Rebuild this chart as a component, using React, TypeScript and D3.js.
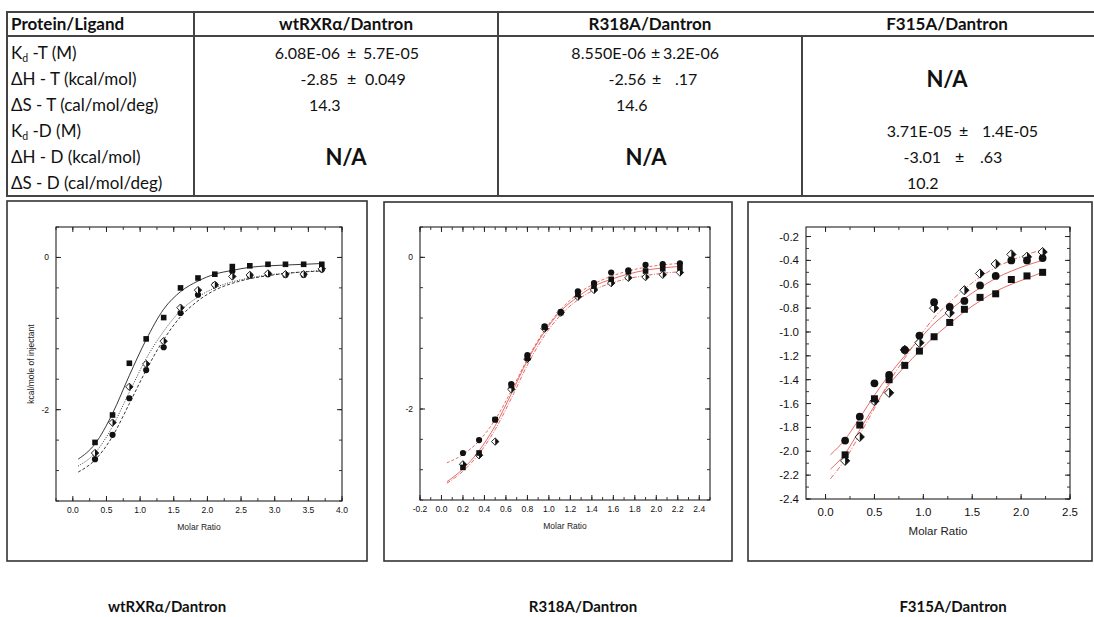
import React from "react";
import * as d3 from "d3";

// ---------------- Table data ----------------
const TABLE_HEADERS = ["Protein/Ligand", "wtRXRα/Dantron", "R318A/Dantron", "F315A/Dantron"];
const ROW_LABELS = [
  { main: "K", sub: "d", rest: " -T (M)" },
  { main: "ΔH - T (kcal/mol)", sub: "", rest: "" },
  { main: "ΔS - T (cal/mol/deg)", sub: "", rest: "" },
  { main: "K", sub: "d", rest: " -D (M)" },
  { main: "ΔH - D (kcal/mol)", sub: "", rest: "" },
  { main: "ΔS - D (cal/mol/deg)", sub: "", rest: "" },
];
// [value, error] per row
const WT_VALUES = [["6.08E-06", "5.7E-05"], ["-2.85", "0.049"], ["14.3"]];
const R318_VALUES = [["8.550E-06", "3.2E-06"], ["-2.56", ".17"], ["14.6"]];
const F315_VALUES = [["3.71E-05", "1.4E-05"], ["-3.01", ".63"], ["10.2"]];
const PM = "±";
const NA_TEXT = "N/A";
const CAPTIONS = ["wtRXRα/Dantron", "R318A/Dantron", "F315A/Dantron"];

// ---------------- Plot 1 (wtRXRα) ----------------
const P1_X = [0.33, 0.59, 0.84, 1.09, 1.35, 1.6, 1.86, 2.11, 2.37, 2.63, 2.9, 3.16, 3.43, 3.7];
const P1_SQUARES = [-2.43, -2.07, -1.39, -1.07, -0.79, -0.4, -0.27, -0.22, -0.12, -0.11, -0.09, -0.09, -0.09, -0.09];
const P1_CIRCLES = [-2.65, -2.33, -1.85, -1.48, -1.18, -0.73, -0.49, -0.36, -0.18, -0.24, -0.22, -0.23, -0.23, -0.16];
const P1_DIAMONDS = [-2.57, -2.17, -1.7, -1.4, -1.1, -0.66, -0.43, -0.36, -0.25, -0.23, -0.21, -0.22, -0.22, -0.15];
const P1_FIT_X = [0.08, 0.33, 0.59, 0.84, 1.09, 1.35, 1.6, 1.86, 2.11, 2.37, 2.63, 2.9, 3.16, 3.43, 3.7];
const P1_FIT_SQ = [-2.65, -2.45, -2.05, -1.55, -1.08, -0.68, -0.45, -0.31, -0.22, -0.17, -0.13, -0.11, -0.1, -0.09, -0.08];
const P1_FIT_CI = [-2.82, -2.66, -2.35, -1.92, -1.48, -1.08, -0.78, -0.57, -0.43, -0.34, -0.28, -0.24, -0.21, -0.19, -0.18];
const P1_FIT_DI = [-2.74, -2.57, -2.22, -1.77, -1.33, -0.97, -0.7, -0.52, -0.4, -0.32, -0.27, -0.23, -0.21, -0.19, -0.17];
const P1_XTICKS = [0, 0.5, 1, 1.5, 2, 2.5, 3, 3.5, 4];
const P1_YTICKS = [0, -2];

// ---------------- Plot 2 (R318A) ----------------
const P2_X = [0.2, 0.35, 0.5, 0.65, 0.8, 0.96, 1.11, 1.27, 1.42, 1.58, 1.74, 1.9, 2.06, 2.22];
const P2_CIRCLES = [-2.58, -2.41, -2.14, -1.67, -1.29, -0.91, -0.72, -0.45, -0.34, -0.2, -0.17, -0.1, -0.09, -0.08];
const P2_SQUARES = [-2.77, -2.58, -2.14, -1.69, -1.33, -0.92, -0.73, -0.49, -0.38, -0.29, -0.19, -0.18, -0.15, -0.14];
const P2_DIAMONDS = [-2.73, -2.61, -2.43, -1.74, -1.34, -0.94, -0.73, -0.52, -0.43, -0.34, -0.27, -0.26, -0.23, -0.2];
const P2_FIT_X = [0.05, 0.2, 0.35, 0.5, 0.65, 0.8, 0.96, 1.11, 1.27, 1.42, 1.58, 1.74, 1.9, 2.06, 2.22];
const P2_FIT_SQ = [-2.96, -2.79, -2.55, -2.22, -1.8, -1.36, -0.98, -0.71, -0.52, -0.38, -0.29, -0.22, -0.17, -0.14, -0.12];
const P2_FIT_CI = [-2.71, -2.6, -2.42, -2.14, -1.76, -1.34, -0.96, -0.69, -0.48, -0.35, -0.25, -0.18, -0.13, -0.1, -0.08];
const P2_FIT_DI = [-2.98, -2.82, -2.59, -2.27, -1.86, -1.42, -1.03, -0.76, -0.56, -0.43, -0.34, -0.28, -0.24, -0.21, -0.19];
const P2_XTICKS = [-0.2, 0, 0.2, 0.4, 0.6, 0.8, 1.0, 1.2, 1.4, 1.6, 1.8, 2.0, 2.2, 2.4];
const P2_YTICKS = [0, -2];

// ---------------- Plot 3 (F315A) ----------------
const P3_X = [0.2, 0.35, 0.5, 0.65, 0.81, 0.96, 1.11, 1.27, 1.42, 1.58, 1.74, 1.9, 2.06, 2.22];
const P3_CIRCLES = [-1.91, -1.71, -1.43, -1.36, -1.15, -1.03, -0.75, -0.79, -0.74, -0.61, -0.53, -0.4, -0.4, -0.38];
const P3_SQUARES = [-2.03, -1.78, -1.56, -1.4, -1.28, -1.16, -1.04, -0.92, -0.81, -0.71, -0.68, -0.56, -0.53, -0.5];
const P3_DIAMONDS = [-2.08, -1.88, -1.58, -1.51, -1.15, -1.09, -0.8, -0.84, -0.65, -0.51, -0.43, -0.35, -0.37, -0.33];
const P3_FIT_X = [0.05, 0.2, 0.35, 0.5, 0.65, 0.81, 0.96, 1.11, 1.27, 1.42, 1.58, 1.74, 1.9, 2.06, 2.22];
const P3_FIT_CI = [-2.03, -1.9, -1.72, -1.53, -1.36, -1.2, -1.06, -0.93, -0.82, -0.72, -0.63, -0.55, -0.49, -0.44, -0.4];
const P3_FIT_SQ = [-2.15, -2.02, -1.82, -1.62, -1.44, -1.29, -1.16, -1.04, -0.93, -0.83, -0.74, -0.66, -0.6, -0.55, -0.5];
const P3_FIT_DI = [-2.23, -2.07, -1.86, -1.64, -1.42, -1.22, -1.04, -0.88, -0.75, -0.64, -0.54, -0.46, -0.4, -0.35, -0.31];
const P3_XTICKS = [0, 0.5, 1.0, 1.5, 2.0, 2.5];
const P3_YTICKS = [-0.2, -0.4, -0.6, -0.8, -1.0, -1.2, -1.4, -1.6, -1.8, -2.0, -2.2, -2.4];

const RED = "#e25a55";
const INK = "#111";

type Series = { kind: "square" | "circle" | "diamond"; ys: number[] };
type Fit = { ys: number[]; dash: string };
type PlotCfg = {
  box: [number, number, number, number];
  left: number; right: number; top: number; bottom: number;
  xDomain: [number, number]; yDomain: [number, number];
  xTicks: number[]; xMinor: number; xFmt: (v: number) => string;
  yTicks: number[]; yMinor: number; yFmt: (v: number) => string;
  xs: number[]; series: Series[];
  fitX: number[]; fits: Fit[]; fitColor: string;
  fontSize: number; marker: number; yTitle?: string;
  fontFamily: string; labelGap: number; titleGap: number;
};

const hy = (s: string) => s.replace("\u2212", "-");
const f1 = (v: number) => hy(d3.format(".1f")(v));
const f0 = (v: number) => hy(d3.format("d")(v));

const NARROW = "'Liberation Sans Narrow', 'Liberation Sans', Arial, sans-serif";

const PLOTS: PlotCfg[] = [
  {
    box: [7, 201, 367, 561],
    left: 56, right: 342, top: 227, bottom: 501,
    xDomain: [-0.25, 4.0], yDomain: [-3.2, 0.4],
    xTicks: P1_XTICKS, xMinor: 0.25, xFmt: f1,
    yTicks: P1_YTICKS, yMinor: 0.4, yFmt: f0,
    xs: P1_X,
    series: [
      { kind: "circle", ys: P1_CIRCLES },
      { kind: "diamond", ys: P1_DIAMONDS },
      { kind: "square", ys: P1_SQUARES },
    ],
    fitX: P1_FIT_X,
    fits: [
      { ys: P1_FIT_SQ, dash: "" },
      { ys: P1_FIT_CI, dash: "3,2" },
      { ys: P1_FIT_DI, dash: "1,1.5" },
    ],
    fitColor: "#222",
    fontSize: 8.5, marker: 1, yTitle: "kcal/mole of injectant",
    fontFamily: NARROW, labelGap: 12, titleGap: 29,
  },
  {
    box: [384, 202, 732, 561],
    left: 420, right: 710, top: 227, bottom: 500,
    xDomain: [-0.2, 2.5], yDomain: [-3.2, 0.4],
    xTicks: P2_XTICKS, xMinor: 0.1, xFmt: f1,
    yTicks: P2_YTICKS, yMinor: 0.4, yFmt: f0,
    xs: P2_X,
    series: [
      { kind: "diamond", ys: P2_DIAMONDS },
      { kind: "square", ys: P2_SQUARES },
      { kind: "circle", ys: P2_CIRCLES },
    ],
    fitX: P2_FIT_X,
    fits: [
      { ys: P2_FIT_SQ, dash: "" },
      { ys: P2_FIT_CI, dash: "3,2" },
      { ys: P2_FIT_DI, dash: "4,1.5,1,1.5" },
    ],
    fitColor: RED,
    fontSize: 8.5, marker: 1,
    fontFamily: NARROW, labelGap: 12, titleGap: 29,
  },
  {
    box: [748, 202, 1092, 561],
    left: 806, right: 1070, top: 227, bottom: 499,
    xDomain: [-0.2, 2.5], yDomain: [-2.4, -0.12],
    xTicks: P3_XTICKS, xMinor: 0.25, xFmt: f1,
    yTicks: P3_YTICKS, yMinor: 0.1, yFmt: f1,
    xs: P3_X,
    series: [
      { kind: "diamond", ys: P3_DIAMONDS },
      { kind: "square", ys: P3_SQUARES },
      { kind: "circle", ys: P3_CIRCLES },
    ],
    fitX: P3_FIT_X,
    fits: [
      { ys: P3_FIT_CI, dash: "" },
      { ys: P3_FIT_SQ, dash: "" },
      { ys: P3_FIT_DI, dash: "5,2,1,2" },
    ],
    fitColor: RED,
    fontSize: 11.5, marker: 1.25,
    fontFamily: "'Liberation Sans', Arial, sans-serif", labelGap: 17, titleGap: 36,
  },
];

function Marker({ kind, cx, cy, s }: { kind: string; cx: number; cy: number; s: number }) {
  if (kind === "square") {
    const h = 2.8 * s;
    return <rect x={cx - h} y={cy - h} width={2 * h} height={2 * h} fill={INK} />;
  }
  if (kind === "circle") {
    return <circle cx={cx} cy={cy} r={3.1 * s} fill={INK} />;
  }
  const d = 3.7 * s;
  return (
    <g>
      <path d={`M${cx},${cy - d}L${cx + d},${cy}L${cx},${cy + d}L${cx - d},${cy}Z`} fill="#fff" stroke={INK} strokeWidth={0.9} />
      <path d={`M${cx},${cy - d}L${cx + d},${cy}L${cx},${cy + d}Z`} fill={INK} />
    </g>
  );
}

function Plot({ cfg }: { cfg: PlotCfg }) {
  const x = d3.scaleLinear().domain(cfg.xDomain).range([cfg.left, cfg.right]);
  const y = d3.scaleLinear().domain(cfg.yDomain).range([cfg.bottom, cfg.top]);
  const line = d3
    .line<[number, number]>()
    .x((d) => x(d[0]))
    .y((d) => y(d[1]))
    .curve(d3.curveMonotoneX);

  const eps = 1e-6;
  const xMinors = d3
    .range(Math.ceil(cfg.xDomain[0] / cfg.xMinor - eps) * cfg.xMinor, cfg.xDomain[1] + eps, cfg.xMinor)
    .filter((v) => v >= cfg.xDomain[0] - eps && v <= cfg.xDomain[1] + eps);
  const yMinors = d3
    .range(Math.ceil(cfg.yDomain[0] / cfg.yMinor - eps) * cfg.yMinor, cfg.yDomain[1] + eps, cfg.yMinor)
    .filter((v) => v >= cfg.yDomain[0] - eps && v <= cfg.yDomain[1] + eps);

  const major = 5;
  const minor = 3;
  const [bx0, by0, bx1, by1] = cfg.box;
  const fs = cfg.fontSize;
  const midX = (cfg.left + cfg.right) / 2;

  return (
    <g>
      <rect x={bx0} y={by0} width={bx1 - bx0} height={by1 - by0} fill="#fff" stroke="#333" strokeWidth={1.6} />
      {cfg.fits.map((f, i) => (
        <path
          key={i}
          d={line(cfg.fitX.map((v, j) => [v, f.ys[j]] as [number, number])) || ""}
          fill="none"
          stroke={cfg.fitColor}
          strokeWidth={0.9}
          strokeDasharray={f.dash || undefined}
        />
      ))}
      {cfg.series.map((s, i) => (
        <g key={i}>
          {cfg.xs.map((v, j) => (
            <Marker key={j} kind={s.kind} cx={x(v)} cy={y(s.ys[j])} s={cfg.marker} />
          ))}
        </g>
      ))}
      <rect x={cfg.left} y={cfg.top} width={cfg.right - cfg.left} height={cfg.bottom - cfg.top} fill="none" stroke="#222" strokeWidth={1.1} />
      {xMinors.map((v, i) => (
        <g key={"xm" + i} stroke="#222" strokeWidth={0.9}>
          <line x1={x(v)} x2={x(v)} y1={cfg.bottom} y2={cfg.bottom - minor} />
          <line x1={x(v)} x2={x(v)} y1={cfg.top} y2={cfg.top + minor} />
        </g>
      ))}
      {cfg.xTicks.map((v, i) => (
        <g key={"xM" + i}>
          <line x1={x(v)} x2={x(v)} y1={cfg.bottom} y2={cfg.bottom - major} stroke="#222" strokeWidth={1} />
          <line x1={x(v)} x2={x(v)} y1={cfg.top} y2={cfg.top + major} stroke="#222" strokeWidth={1} />
          <text x={x(v)} y={cfg.bottom + cfg.labelGap} fontSize={fs} textAnchor="middle" fill="#111" fontFamily={cfg.fontFamily}>
            {cfg.xFmt(v)}
          </text>
        </g>
      ))}
      {yMinors.map((v, i) => (
        <g key={"ym" + i} stroke="#222" strokeWidth={0.9}>
          <line x1={cfg.left} x2={cfg.left + minor} y1={y(v)} y2={y(v)} />
          <line x1={cfg.right} x2={cfg.right - minor} y1={y(v)} y2={y(v)} />
        </g>
      ))}
      {cfg.yTicks.map((v, i) => (
        <g key={"yM" + i}>
          <line x1={cfg.left} x2={cfg.left + major} y1={y(v)} y2={y(v)} stroke="#222" strokeWidth={1} />
          <line x1={cfg.right} x2={cfg.right - major} y1={y(v)} y2={y(v)} stroke="#222" strokeWidth={1} />
          <text x={cfg.left - 7} y={y(v) + fs * 0.35} fontSize={fs} textAnchor="end" fill="#111" fontFamily={cfg.fontFamily}>
            {cfg.yFmt(v)}
          </text>
        </g>
      ))}
      <text x={midX} y={cfg.bottom + cfg.titleGap} fontSize={fs} textAnchor="middle" fill="#222" fontFamily={cfg.fontFamily}>
        Molar Ratio
      </text>
      {cfg.yTitle && (
        <text
          transform={`translate(${cfg.left - 22},${(cfg.top + cfg.bottom) / 2}) rotate(-90)`}
          fontSize={fs}
          textAnchor="middle"
          fill="#222"
          fontFamily={cfg.fontFamily}
        >
          {cfg.yTitle}
        </text>
      )}
    </g>
  );
}

const TFONT = "Lato, 'Open Sans', 'Liberation Sans', sans-serif";
const TSIZE = 17;
const VSIZE = 16;

function Table() {
  const top = 12, bottom = 196, headBottom = 36;
  const xs = [7, 194, 498, 802, 1100];
  const rowY = (i: number) => 59 + 26 * i;
  const txt = (x: number, y: number, s: string, anchor: string = "start", bold = false, size = TSIZE) => (
    <text x={x} y={y} fontFamily={TFONT} fontSize={size} fontWeight={bold ? 700 : 400} textAnchor={anchor as any} fill="#111">
      {s}
    </text>
  );
  // value cells: [row, values, valueEndX (or start for single), pmX, errX]
  const cells: [number, string[], number, number, number][] = [
    [0, WT_VALUES[0], 340, 347, 363],
    [1, WT_VALUES[1], 338, 347, 365],
    [2, WT_VALUES[2], 309, 0, 0],
    [0, R318_VALUES[0], 646, 651, 663],
    [1, R318_VALUES[1], 646, 652, 675],
    [2, R318_VALUES[2], 616, 0, 0],
    [3, F315_VALUES[0], 952, 959, 982],
    [4, F315_VALUES[1], 941, 955, 980],
    [5, F315_VALUES[2], 907, 0, 0],
  ];
  return (
    <g>
      <rect x={xs[0]} y={top} width={xs[4] - xs[0]} height={bottom - top} fill="#fff" stroke="#444" strokeWidth={2} />
      <line x1={xs[0]} x2={xs[4]} y1={headBottom} y2={headBottom} stroke="#444" strokeWidth={2} />
      <line x1={xs[1]} x2={xs[1]} y1={top} y2={bottom} stroke="#444" strokeWidth={2} />
      <line x1={xs[2]} x2={xs[2]} y1={top} y2={bottom} stroke="#444" strokeWidth={2} />
      <line x1={xs[3]} x2={xs[3]} y1={headBottom} y2={bottom} stroke="#444" strokeWidth={2} />
      {txt(11, 30, TABLE_HEADERS[0], "start", true)}
      {txt(346, 30, TABLE_HEADERS[1], "middle", true)}
      {txt(650, 30, TABLE_HEADERS[2], "middle", true)}
      {txt(947, 30, TABLE_HEADERS[3], "middle", true)}
      {ROW_LABELS.map((r, i) => (
        <text key={i} x={11} y={rowY(i)} fontFamily={TFONT} fontSize={TSIZE} fill="#111">
          {r.main}
          {r.sub && (
            <tspan fontSize={TSIZE * 0.62} dy={3}>
              {r.sub}
            </tspan>
          )}
          {r.rest && <tspan dy={r.sub ? -3 : 0}>{r.rest}</tspan>}
        </text>
      ))}
      {cells.map(([row, vals, vx, px, ex], i) => (
        <g key={i}>
          {vals.length > 1 ? txt(vx, rowY(row), vals[0], "end", false, VSIZE) : txt(vx, rowY(row), vals[0], "start", false, VSIZE)}
          {vals.length > 1 && txt(px, rowY(row), PM, "start", false, VSIZE)}
          {vals.length > 1 && txt(ex, rowY(row), vals[1], "start", false, VSIZE)}
        </g>
      ))}
      {txt(346, rowY(4) + 2, NA_TEXT, "middle", true, 22)}
      {txt(646, rowY(4) + 2, NA_TEXT, "middle", true, 22)}
      {txt(947, rowY(1) + 2, NA_TEXT, "middle", true, 22)}
    </g>
  );
}

export default function App() {
  const captionX = [167, 583, 953];
  return (
    <svg width={1094} height={617} style={{ position: "absolute", left: 0, top: 0, background: "#fff" }}>
      <rect x={0} y={0} width={1094} height={617} fill="#fff" />
      <Table />
      {PLOTS.map((p, i) => (
        <Plot key={i} cfg={p} />
      ))}
      {CAPTIONS.map((c, i) => (
        <text key={i} x={captionX[i]} y={612} fontFamily={TFONT} fontSize={15} fontWeight={700} textAnchor="middle" fill="#111">
          {c}
        </text>
      ))}
    </svg>
  );
}
